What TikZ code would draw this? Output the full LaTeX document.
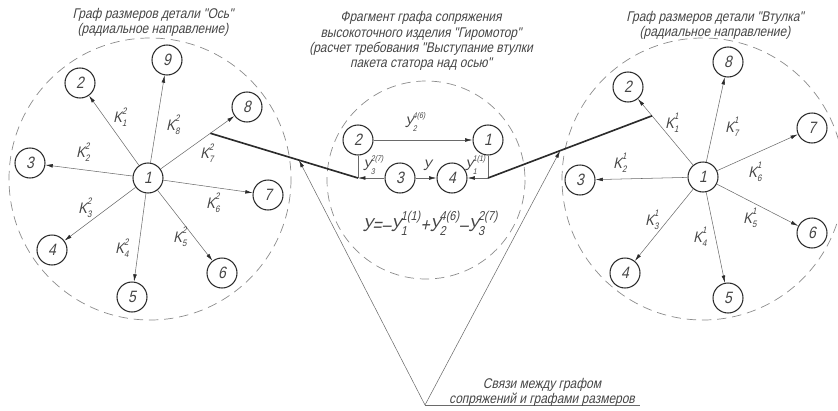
\documentclass[tikz,border=0pt]{standalone}
\usepackage{fontspec}
\newfontfamily\gost{Liberation Sans}[FakeStretch=0.85,FakeSlant=0.22]
\usetikzlibrary{arrows.meta,calc}
\definecolor{ink}{HTML}{2B2B2B}
\definecolor{edge}{HTML}{6A6A6A}
\definecolor{txt}{HTML}{454545}
\definecolor{border}{HTML}{8C8C8C}
\newcommand{\dimlbl}[4][8]{#2\rlap{\raisebox{-0.25em}{\fontsize{#1}{#1}\selectfont #3}}\raisebox{0.57em}{\fontsize{#1}{#1}\selectfont #4}}

\begin{document}
\begin{tikzpicture}[x=0.3mm, y=-0.3mm,
    vertex/.style={circle, draw=ink, line width=0.9pt, minimum size=9mm, inner sep=0pt, font=\gost\fontsize{14}{14}\selectfont, text=txt},
    link/.style={draw=edge, line width=0.45pt, -{Latex[length=2.2mm,width=1.1mm,color=ink]}},
    plain/.style={draw=edge, line width=0.45pt},
    klabel/.style={font=\gost\fontsize{13}{13}\selectfont, text=txt, inner sep=0pt},
    title/.style={font=\gost\fontsize{12}{13}\selectfont, text=txt, align=center, inner sep=0pt},
    zone/.style={draw=border, line width=0.6pt, dash pattern=on 8pt off 5pt},
    bond/.style={draw=ink, line width=1.4pt}]
    \useasboundingbox (0,0) rectangle (838,410);

    % dashed zones
    \draw[zone] (150,179) circle[radius=141];
    \draw[zone] (426,180) circle[radius=99];
    \draw[zone] (703,179) circle[radius=141];

    % titles
    \node[title] (tleft) at (153,22) {Граф размеров детали "Ось"\\(радиальное направление)};
    \node[title] (tmid) at (421,41) {Фрагмент графа сопряжения\\высокоточного изделия "Гиромотор"\\(расчет требования "Выступание втулки\\пакета статора над осью"};
    \node[title] (tright) at (715,25) {Граф размеров детали "Втулка"\\(радиальное направление)};

    % graph of the shaft
    \node[vertex] (L1) at (148,178) {1};
    \node[vertex] (L2) at (80,83) {2};
    \node[vertex] (L3) at (30,163) {3};
    \node[vertex] (L4) at (52,250) {4};
    \node[vertex] (L5) at (132,297) {5};
    \node[vertex] (L6) at (222,273) {6};
    \node[vertex] (L7) at (268,195) {7};
    \node[vertex] (L8) at (247,107) {8};
    \node[vertex] (L9) at (167,60) {9};
    \draw[link] (L1) -- (L2);
    \draw[link] (L1) -- (L3);
    \draw[link] (L1) -- (L4);
    \draw[link] (L1) -- (L5);
    \draw[link] (L1) -- (L6);
    \draw[link] (L1) -- (L7);
    \draw[link] (L1) -- (L8);
    \draw[link] (L1) -- (L9);
    \node[klabel] (kL1) at (120,117) {\dimlbl{K}{1}{2}};
    \node[klabel] (kL2) at (83,152) {\dimlbl{K}{2}{2}};
    \node[klabel] (kL3) at (85,208) {\dimlbl{K}{3}{2}};
    \node[klabel] (kL4) at (122,248) {\dimlbl{K}{4}{2}};
    \node[klabel] (kL5) at (180,237) {\dimlbl{K}{5}{2}};
    \node[klabel] (kL6) at (213,203) {\dimlbl{K}{6}{2}};
    \node[klabel] (kL7) at (207,153) {\dimlbl{K}{7}{2}};
    \node[klabel] (kL8) at (173,125) {\dimlbl{K}{8}{2}};

    % graph of the bushing
    \node[vertex] (R1) at (703,177) {1};
    \node[vertex] (R2) at (628,87) {2};
    \node[vertex] (R3) at (580,180) {3};
    \node[vertex] (R4) at (625,273) {4};
    \node[vertex] (R5) at (728,298) {5};
    \node[vertex] (R6) at (812,233) {6};
    \node[vertex] (R7) at (812,128) {7};
    \node[vertex] (R8) at (728,62) {8};
    \draw[link] (R1) -- (R2);
    \draw[link] (R1) -- (R3);
    \draw[link] (R1) -- (R4);
    \draw[link] (R1) -- (R5);
    \draw[link] (R1) -- (R6);
    \draw[link] (R1) -- (R7);
    \draw[link] (R1) -- (R8);
    \node[klabel] (kR1) at (672,123) {\dimlbl{K}{1}{1}};
    \node[klabel] (kR2) at (620,163) {\dimlbl{K}{2}{1}};
    \node[klabel] (kR3) at (652,220) {\dimlbl{K}{3}{1}};
    \node[klabel] (kR4) at (700,237) {\dimlbl{K}{4}{1}};
    \node[klabel] (kR5) at (750,218) {\dimlbl{K}{5}{1}};
    \node[klabel] (kR6) at (755,172) {\dimlbl{K}{6}{1}};
    \node[klabel] (kR7) at (732,127) {\dimlbl{K}{7}{1}};

    % fragment of the assembly graph
    \node[vertex] (M1) at (488,140) {1};
    \node[vertex] (M2) at (358,140) {2};
    \node[vertex] (M3) at (400,178) {3};
    \node[vertex] (M4) at (452,178) {4};
    \coordinate (cl) at (M2 |- M3);
    \coordinate (cr) at (M1 |- M4);
    \draw[link] (M2) -- (M1);
    \draw[link] (M3) -- (M4);
    \draw[plain] (M2) -- (cl);
    \draw[link] (M3) -- (cl);
    \draw[plain] (M1) -- (cr);
    \draw[link] (cr) -- (M4);
    \node[klabel] (yM2) at (415,122) {\dimlbl[7]{У}{2}{4(6)}};
    \node[klabel] (yM3) at (373,165) {\dimlbl[7]{У}{3}{2(7)}};
    \node[klabel] (yM0) at (427,165) {У};
    \node[klabel] (yM1) at (475,165) {\dimlbl[7]{У}{1}{1(1)}};
    \node[font=\gost\fontsize{16}{16}\selectfont, text=txt, anchor=base, inner sep=0pt] (chain) at (430,231) {У=–\dimlbl[11]{У}{1}{1(1)}+\dimlbl[11]{У}{2}{4(6)}–\dimlbl[11]{У}{3}{2(7)}};

    % links between the graphs
    \coordinate (bl) at ($(L1)!0.63!(L8)$);
    \coordinate (br) at ($(R1)!0.68!(R2)$);
    \draw[bond] (bl) -- (cl);
    \draw[bond] (cr) -- (br);
    \coordinate (apex) at (425,405);
    \coordinate (ulend) at (640,405);
    \coordinate (tl) at ($(bl)!0.6!(cl)$);
    \coordinate (tr) at ($(cr)!0.44!(br)$);
    \draw[link] (apex) -- (tl);
    \draw[link] (apex) -- (tr);
    \draw[plain] (apex) -- (ulend);
    \node[title, anchor=south] (links) at (542,407) {Связи между графом\\сопряжений и графами размеров};
\end{tikzpicture}
\end{document}
